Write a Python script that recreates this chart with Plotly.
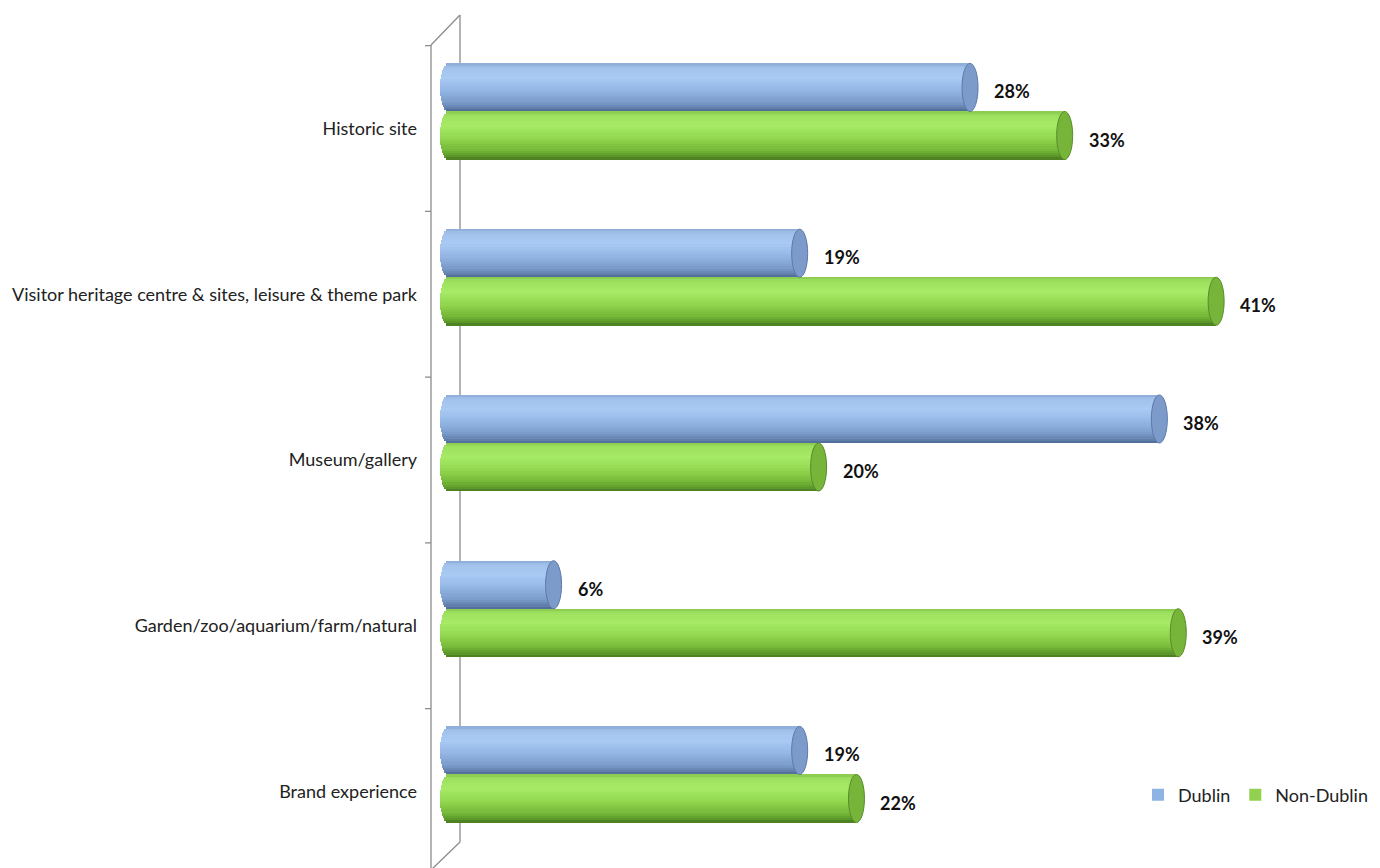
import numpy as np
import plotly.graph_objects as go

# Survey results: share of visits by attraction type
categories = [
    "Historic site",
    "Visitor heritage centre & sites, leisure & theme park",
    "Museum/gallery",
    "Garden/zoo/aquarium/farm/natural",
    "Brand experience",
]
dublin = [28, 19, 38, 6, 19]
non_dublin = [33, 41, 20, 39, 22]
series_names = ["Dublin", "Non-Dublin"]

# ---- geometry (axis units) ----
W, H = 1380, 868
ML = 440                      # left margin in px (plot area starts here)
PX_PER_UNIT = 18.93           # px per percentage point
X_MAX = (W - ML) / PX_PER_UNIT
SLOT_PX = 165.75              # px per category slot
Y0_PX = 128.5                 # px of first category centre
Y_TOP = -Y0_PX / SLOT_PX
Y_BOT = (H - Y0_PX) / SLOT_PX

BAR_H = 0.29                  # thickness of one cylinder (y units)
LIFT = 0.1026                 # cylinders sit slightly above label centre
CAP = 8 / PX_PER_UNIT         # half-width of elliptical end cap (x units)
N_STRIPS = 22


def lerp_color(stops, t):
    ts = [s[0] for s in stops]
    for i in range(len(stops) - 1):
        if ts[i] <= t <= ts[i + 1]:
            f = (t - ts[i]) / (ts[i + 1] - ts[i])
            c0 = np.array([int(stops[i][1][j:j + 2], 16) for j in (1, 3, 5)])
            c1 = np.array([int(stops[i + 1][1][j:j + 2], 16) for j in (1, 3, 5)])
            c = np.round(c0 + (c1 - c0) * f).astype(int)
            return "rgb(%d,%d,%d)" % tuple(c)
    return stops[-1][1]


shade = {
    "Dublin": [(0.0, "#8AA8D4"), (0.08, "#A2C2EC"), (0.3, "#A9CAF3"),
               (0.55, "#94B7E5"), (0.8, "#7C9DCB"), (0.93, "#6380AD"), (1.0, "#4C6894")],
    "Non-Dublin": [(0.0, "#86C64C"), (0.08, "#9EE05E"), (0.3, "#A6EA66"),
                   (0.55, "#93D850"), (0.8, "#76B838"), (0.93, "#5D982A"), (1.0, "#48781F")],
}
cap_fill = {"Dublin": "#7D9BCA", "Non-Dublin": "#76B43A"}
cap_line = {"Dublin": "#5C79A8", "Non-Dublin": "#588C2A"}
legend_color = {"Dublin": "#8DB4E2", "Non-Dublin": "#92D050"}

fig = go.Figure()
shapes = []
annotations = []

for s_idx, (name, values) in enumerate(zip(series_names, [dublin, non_dublin])):
    pos = np.arange(len(categories))
    top = pos - LIFT - BAR_H + s_idx * BAR_H
    h = BAR_H / N_STRIPS
    vals = np.array(values, dtype=float)
    for k in range(N_STRIPS):
        t = (k + 0.5) / N_STRIPS
        s = 2 * t - 1
        base = CAP * (1 - np.sqrt(max(0.0, 1 - s * s)))   # rounded left end
        fig.add_trace(go.Bar(
            orientation="h",
            y=top + k * h + h / 2 + 0.0008,
            x=vals - base,
            base=[base] * len(vals),
            width=h + 0.0016,
            marker=dict(color=lerp_color(shade[name], t), line=dict(width=0)),
            name=name,
            legendgroup=name,
            showlegend=False,
            hoverinfo="skip",
        ))
    # legend entry
    fig.add_trace(go.Bar(
        orientation="h", x=[None], y=[None], name=name, legendgroup=name,
        marker=dict(color=legend_color[name], line=dict(width=0)), showlegend=True,
    ))
    # elliptical end caps and value labels
    for i, v in enumerate(values):
        y_top = top[i]
        y_bot = top[i] + BAR_H
        shapes.append(dict(
            type="circle", xref="x", yref="y", layer="above",
            x0=v - CAP, x1=v + CAP, y0=y_top, y1=y_bot,
            fillcolor=cap_fill[name], line=dict(color=cap_line[name], width=1),
        ))
        shapes.append(dict(
            type="circle", xref="x", yref="y", layer="above",
            x0=v - CAP * 0.6, x1=v + CAP * 0.75, y0=y_top + BAR_H * 0.12, y1=y_bot - BAR_H * 0.2,
            fillcolor=cap_fill[name], line=dict(width=0), opacity=0.6,
        ))
        annotations.append(dict(
            x=v, y=(y_top + y_bot) / 2, xref="x", yref="y",
            text="%d%%" % v, showarrow=False, xanchor="left", yanchor="middle",
            xshift=22, yshift=-4,
            font=dict(family="Lato", size=18, color="#111111", weight="bold"),
        ))


# ---- perspective axis frame (pixel -> paper helpers) ----
def px(xp):
    return (xp - ML) / (W - ML)


def py(yp):
    return 1 - yp / H


axis_col = "#8C8C8C"
frame = [
    ((431, 45), (431, 868)),   # front vertical
    ((431, 45), (460, 15)),    # top diagonal
    ((460, 842), (431, 870)),  # bottom diagonal
]
for (xa, ya), (xb, yb) in frame:
    shapes.append(dict(type="line", xref="paper", yref="paper", layer="below",
                       x0=px(xa), y0=py(ya), x1=px(xb), y1=py(yb),
                       line=dict(color=axis_col, width=1.3)))
# back wall vertical (hidden behind cylinders)
shapes.append(dict(type="line", xref="paper", yref="paper", layer="below",
                   x0=px(460), y0=py(15), x1=px(460), y1=py(842),
                   line=dict(color=axis_col, width=1.3)))
# category boundary ticks on front line
for i in range(len(categories)):
    yb = Y0_PX + (i - 0.5) * SLOT_PX
    shapes.append(dict(type="line", xref="paper", yref="paper", layer="below",
                       x0=px(425), y0=py(yb), x1=px(431), y1=py(yb),
                       line=dict(color=axis_col, width=1.3)))

fig.update_layout(
    width=W, height=H,
    margin=dict(l=ML, r=0, t=0, b=0, autoexpand=False),
    paper_bgcolor="white", plot_bgcolor="rgba(0,0,0,0)",
    barmode="overlay",
    bargap=0,
    shapes=shapes,
    annotations=annotations,
    xaxis=dict(range=[0, X_MAX], visible=False, fixedrange=True),
    yaxis=dict(
        range=[Y_BOT, Y_TOP],
        tickmode="array",
        tickvals=list(range(len(categories))),
        ticktext=categories,
        showgrid=False, zeroline=False, showline=False, ticks="",
        ticklabelstandoff=22,
        tickfont=dict(family="Lato", size=18, color="#222222"),
    ),
    legend=dict(
        orientation="h", x=px(1138), xanchor="left", y=py(795), yanchor="middle",
        font=dict(family="Lato", size=18, color="#222222"),
        bgcolor="rgba(0,0,0,0)", itemwidth=30, traceorder="normal",
    ),
    showlegend=True,
)

fig.write_html("out.html")
